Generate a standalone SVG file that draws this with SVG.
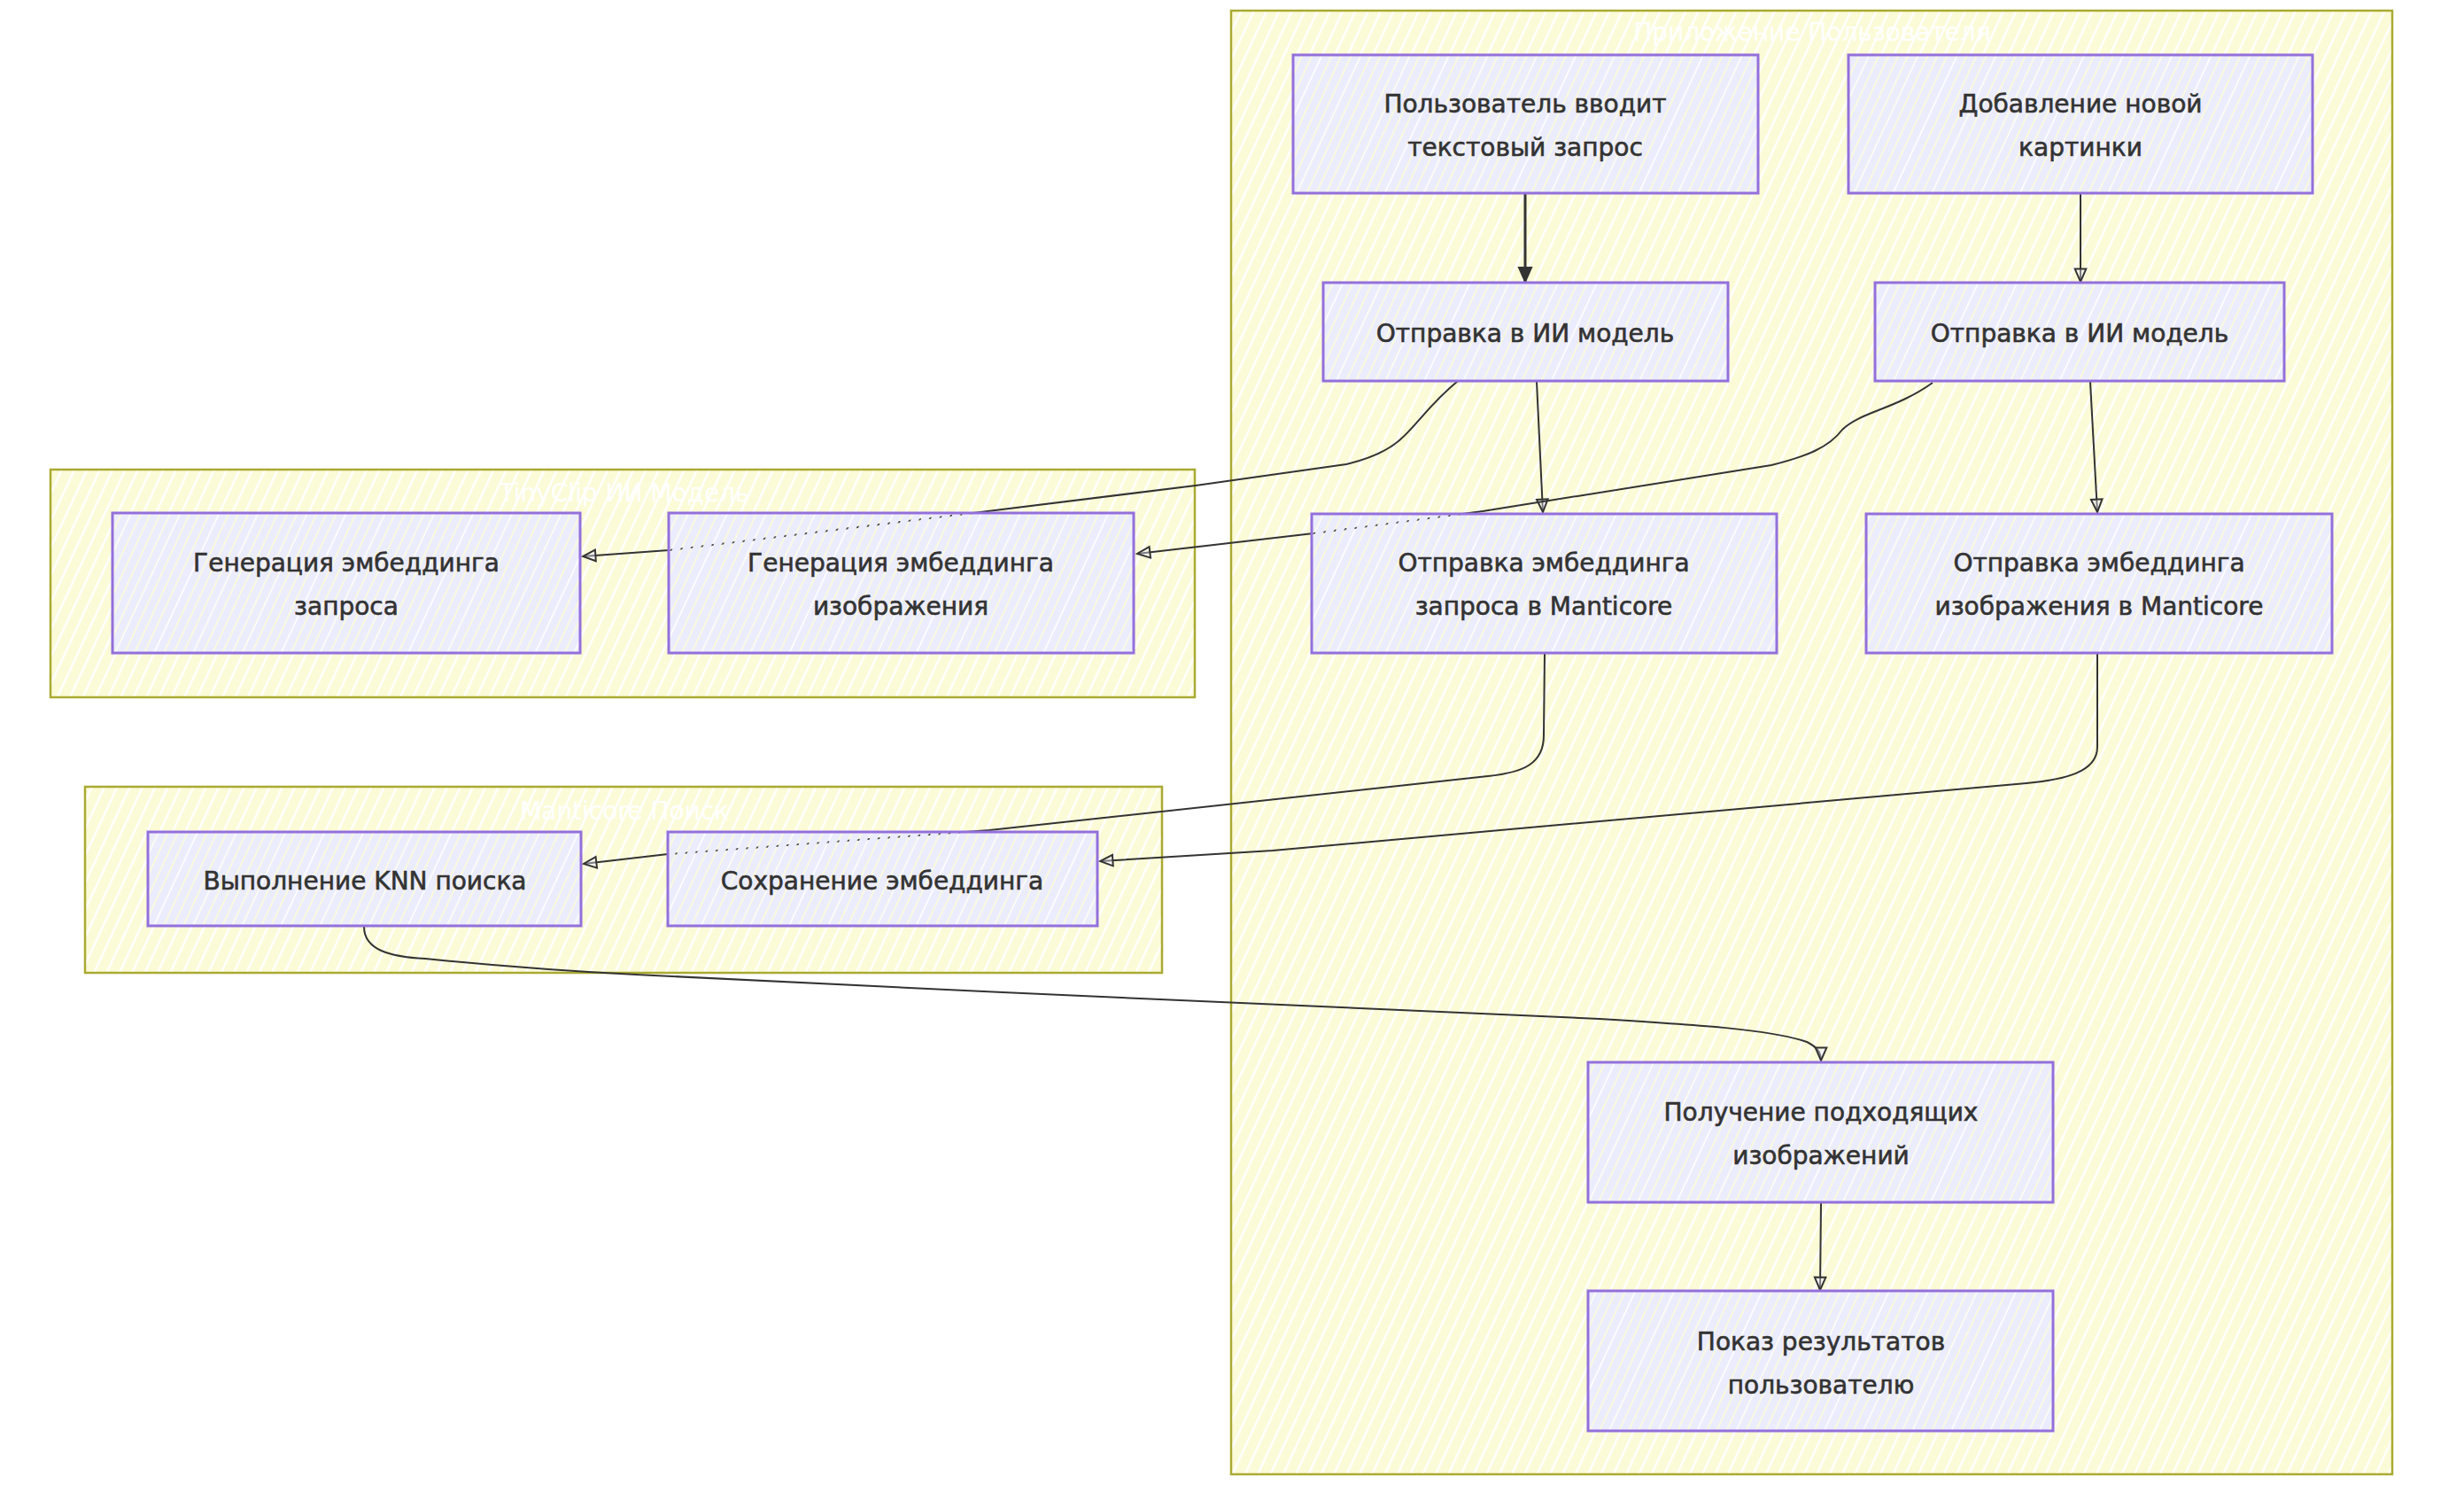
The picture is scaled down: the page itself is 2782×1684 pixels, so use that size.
<svg xmlns="http://www.w3.org/2000/svg" width="2782" height="1684" viewBox="0 0 2782 1684">
<defs>
<pattern id="hy" width="13" height="13" patternUnits="userSpaceOnUse" patternTransform="rotate(25)">
<rect width="13" height="13" fill="#fbfbd8"/>
<rect x="0" width="2.5" height="13" fill="#ffffff"/>
</pattern>
<pattern id="hn" width="10" height="10" patternUnits="userSpaceOnUse" patternTransform="rotate(25)">
<rect width="8.3" height="10" fill="#ececff"/>
</pattern>
<marker id="ao" viewBox="0 0 10 10" refX="9" refY="5" markerWidth="18" markerHeight="18" markerUnits="userSpaceOnUse" orient="auto">
<path d="M1,1.5 L9,5 L1,8.5 Z" fill="#ececff" fill-opacity="0.4" stroke="#333" stroke-width="1.1"/>
</marker>
<marker id="af" viewBox="0 0 10 10" refX="9" refY="5" markerWidth="20" markerHeight="20" markerUnits="userSpaceOnUse" orient="auto">
<path d="M1,1.5 L9,5 L1,8.5 Z" fill="#333" stroke="#333" stroke-width="1"/>
</marker>
<style>
.cl{fill:url(#hy);stroke:#aaaa33;stroke-width:2.5}
.ct{font-family:"DejaVu Sans",sans-serif;font-size:28px;fill:#ffffff;text-anchor:middle}
.nb{fill:url(#hn);stroke:#9370db;stroke-width:3}
.nt{font-family:"DejaVu Sans",sans-serif;font-size:28px;fill:#333;stroke:#333;stroke-width:0.6;text-anchor:middle}
.e{fill:none;stroke:#333;stroke-width:2;marker-end:url(#ao)}
</style>
</defs>
<rect width="2782" height="1684" fill="#ffffff"/>
<g id="clusters">
<g id="cluster-app"><rect class="cl" x="1390" y="12" width="1311" height="1652"/><text class="ct" x="2046" y="46">Приложение Пользователя</text></g>
<g id="cluster-tinyclip"><rect class="cl" x="57" y="530" width="1292" height="257"/><text class="ct" x="705" y="566">TinyClip ИИ Модель</text></g>
<g id="cluster-manticore"><rect class="cl" x="96" y="888" width="1216" height="210"/><text class="ct" x="705" y="925">Manticore Поиск</text></g>
</g>
<g id="connectors">
<path class="e" d="M1722,219 L1722,318" style="stroke-width:3;marker-end:url(#af)"/>
<path class="e" d="M2349,219 L2349,318"/>
<path class="e" d="M1735,431 L1742,578"/>
<path class="e" d="M1646,430 C1612,458 1600,480 1580,497 C1565,510 1545,518 1520,524 L1350,548 L1107,578 L755,621 L658,628"/>
<path class="e" d="M2182,432 C2140,462 2100,465 2080,485 C2065,505 2040,515 2000,525 L1674,577 L1483,602 L1284,625"/>
<path class="e" d="M2360,431 L2368,578"/>
<path class="e" d="M1744,738 L1743,830 C1743,862 1720,872 1680,876 L1117,937 L754,964 L659,975"/>
<path class="e" d="M2368,738 L2368,843 C2368,872 2330,880 2288,884 L1437,960 L1242,972"/>
<path class="e" d="M411,1046 C411,1072 440,1080 480,1082 C560,1090 620,1095 718,1100 L1132,1120 L1806,1150 C1920,1157 2000,1162 2040,1176 C2052,1182 2056,1188 2056,1197"/>
<path class="e" d="M2056,1358 L2055,1456"/>
</g>
<g id="nodes">
<g id="n-query"><rect class="nb" x="1460" y="62" width="525" height="156"/><text class="nt" x="1722" y="127">Пользователь вводит</text><text class="nt" x="1722" y="176">текстовый запрос</text></g>
<g id="n-addimg"><rect class="nb" x="2087" y="62" width="524" height="156"/><text class="nt" x="2349" y="127">Добавление новой</text><text class="nt" x="2349" y="176">картинки</text></g>
<g id="n-send1"><rect class="nb" x="1494" y="319" width="457" height="111"/><text class="nt" x="1722" y="386">Отправка в ИИ модель</text></g>
<g id="n-send2"><rect class="nb" x="2117" y="319" width="462" height="111"/><text class="nt" x="2348" y="386">Отправка в ИИ модель</text></g>
<g id="n-sendq"><rect class="nb" x="1481" y="580" width="525" height="157"/><text class="nt" x="1743" y="645">Отправка эмбеддинга</text><text class="nt" x="1743" y="694">запроса в Manticore</text></g>
<g id="n-sendi"><rect class="nb" x="2107" y="580" width="526" height="157"/><text class="nt" x="2370" y="645">Отправка эмбеддинга</text><text class="nt" x="2370" y="694">изображения в Manticore</text></g>
<g id="n-genq"><rect class="nb" x="127" y="579" width="528" height="158"/><text class="nt" x="391" y="645">Генерация эмбеддинга</text><text class="nt" x="391" y="694">запроса</text></g>
<g id="n-geni"><rect class="nb" x="755" y="579" width="525" height="158"/><text class="nt" x="1017" y="645">Генерация эмбеддинга</text><text class="nt" x="1017" y="694">изображения</text></g>
<g id="n-knn"><rect class="nb" x="167" y="939" width="489" height="106"/><text class="nt" x="412" y="1004">Выполнение KNN поиска</text></g>
<g id="n-save"><rect class="nb" x="754" y="939" width="485" height="106"/><text class="nt" x="996" y="1004">Сохранение эмбеддинга</text></g>
<g id="n-get"><rect class="nb" x="1793" y="1199" width="525" height="158"/><text class="nt" x="2056" y="1265">Получение подходящих</text><text class="nt" x="2056" y="1314">изображений</text></g>
<g id="n-show"><rect class="nb" x="1793" y="1457" width="525" height="158"/><text class="nt" x="2056" y="1524">Показ результатов</text><text class="nt" x="2056" y="1573">пользователю</text></g>
</g>
</svg>
